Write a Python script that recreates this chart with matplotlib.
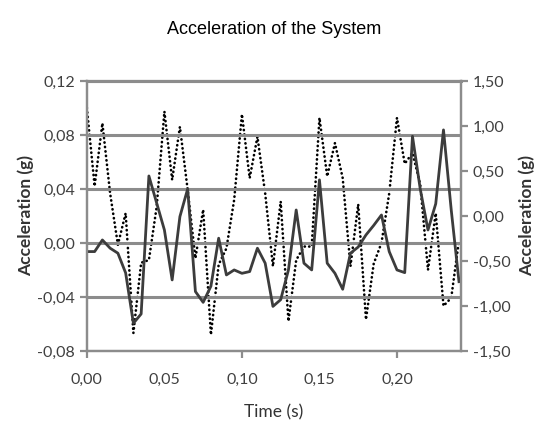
import numpy as np
import matplotlib
matplotlib.use('Agg')
from matplotlib import pyplot as plt
from matplotlib.ticker import FuncFormatter

# time samples (s)
time_s = [0.000, 0.005, 0.010, 0.015, 0.020, 0.025, 0.030, 0.035, 0.040, 0.045,
          0.050, 0.055, 0.060, 0.065, 0.070, 0.075, 0.080, 0.085, 0.090, 0.095,
          0.100, 0.105, 0.110, 0.115, 0.120, 0.125, 0.130, 0.135, 0.140, 0.145,
          0.150, 0.155, 0.160, 0.165, 0.170, 0.175, 0.180, 0.185, 0.190, 0.195,
          0.200, 0.205, 0.210, 0.215, 0.220, 0.225, 0.230, 0.235, 0.240]

# solid line, left axis (g)
accel_left = [-0.0064, -0.0064, 0.0022, -0.0039, -0.0076, -0.0222, -0.0595, -0.0526, 0.0496, 0.0296,
              0.0096, -0.0274, 0.0195, 0.0400, -0.0360, -0.0440, -0.0320, 0.0035, -0.0237, -0.0200,
              -0.0225, -0.0212, -0.0039, -0.0150, -0.0470, -0.0420, -0.0200, 0.0244, -0.0150, -0.0200,
              0.0467, -0.0150, -0.0225, -0.0343, -0.0076, -0.0030, 0.0059, 0.0130, 0.0207, -0.0064,
              -0.0200, -0.0220, 0.0790, 0.0400, 0.0096, 0.0290, 0.0837, 0.0244, -0.0287]

# dotted line, right axis (g)
accel_right = [1.20, 0.33, 1.03, 0.25, -0.32, 0.03, -1.30, -0.52, -0.49, 0.10,
               1.16, 0.40, 0.99, 0.29, -0.47, 0.07, -1.32, -0.54, -0.36, 0.18,
               1.13, 0.42, 0.88, 0.25, -0.56, 0.16, -1.17, -0.49, -0.34, -0.34,
               1.09, 0.44, 0.81, 0.42, -0.56, 0.13, -1.15, -0.53, -0.30, 0.25,
               1.09, 0.58, 0.70, 0.35, -0.60, 0.03, -1.00, -0.91, -0.27]

left_ticks = [-0.08, -0.04, 0.00, 0.04, 0.08, 0.12]
right_ticks = [-1.5, -1.0, -0.5, 0.0, 0.5, 1.0, 1.5]
x_labels = [0.00, 0.05, 0.10, 0.15, 0.20]

GRAY = '#8c8c8c'
TXT = '#404040'
plt.rcParams['font.family'] = ['Lato', 'DejaVu Sans']

comma = FuncFormatter(lambda v, p: f"{v:.2f}".replace('.', ','))

fig = plt.figure(figsize=(5.43, 4.28), dpi=100)
ax = fig.add_axes([0.160, 0.180, 0.689, 0.631])
ax2 = ax.twinx()
ax.set_zorder(ax2.get_zorder() + 1)
ax.patch.set_visible(False)

ax2.plot(time_s, accel_right, color='black', lw=1.9, linestyle=(0, (0.1, 1.6)),
         dash_capstyle='round')
ax.plot(time_s, accel_left, color='#3c3c3c', lw=2.0)

ax.set_xlim(0, 0.2413)
ax.set_ylim(-0.08, 0.12)
ax2.set_ylim(-1.5, 1.5)

ax.set_yticks(left_ticks)
ax.yaxis.set_major_formatter(comma)
ax2.set_yticks(right_ticks)
ax2.yaxis.set_major_formatter(comma)
ax.set_xticks(x_labels)
ax.xaxis.set_major_formatter(comma)
for i, t in enumerate(ax.xaxis.get_major_ticks()):
    if i % 2 == 1:
        t.tick1line.set_visible(False)

ax.grid(axis='y', color=GRAY, lw=2.2)
ax.set_axisbelow(True)

for a in (ax, ax2):
    for s in a.spines.values():
        s.set_color(GRAY)
        s.set_linewidth(1.6)
    a.tick_params(colors=GRAY, labelcolor=TXT, labelsize=11.5, width=1.6, length=5)
ax.tick_params(axis='x', pad=11)
ax.spines['top'].set_linewidth(2.2)

ax.set_ylabel('Acceleration (g)', fontsize=12.5, color='#333333', fontweight='bold', labelpad=2)
ax2.set_ylabel('Acceleration (g)', fontsize=12.5, color='#333333', fontweight='bold', labelpad=6)
ax.set_xlabel('Time (s)', fontsize=12.5, color='#333333', labelpad=12)

fig.text(0.505, 0.93, 'Acceleration of the System', ha='center', va='center',
         fontsize=13, color='black', family=['Liberation Sans Narrow', 'Liberation Sans'])

fig.savefig('out.png', dpi=100)
